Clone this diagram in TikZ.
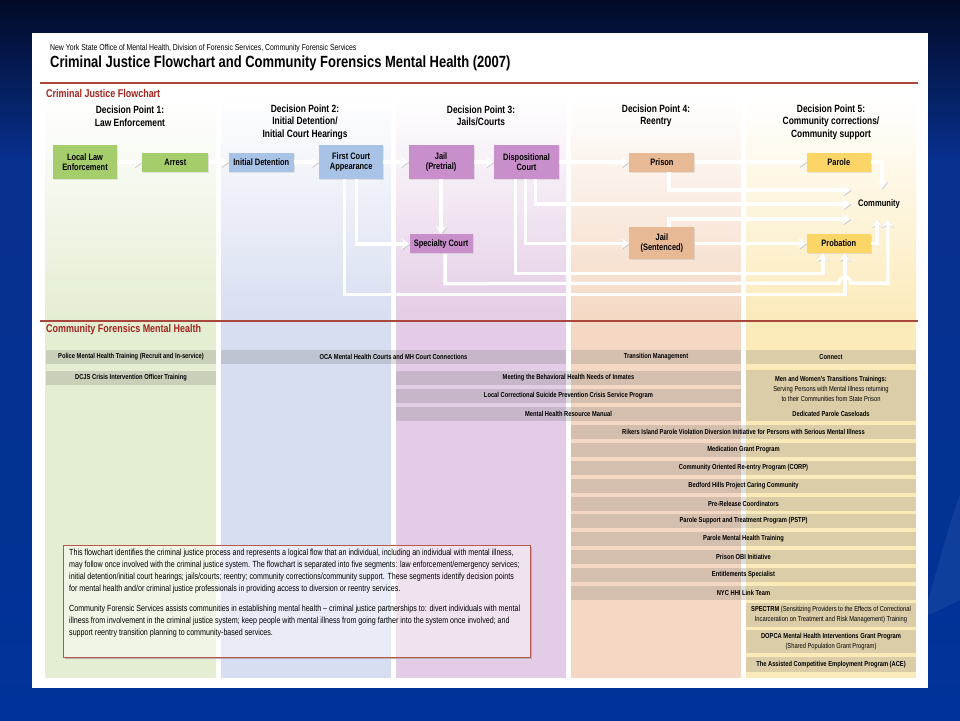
\documentclass[tikz,border=0pt]{standalone}
\usepackage{fontspec}
\setmainfont{Liberation Sans}
\newfontfamily\cnd[FakeStretch=0.8]{Liberation Sans}
\usepackage{xcolor}
\usepackage{tikz}
\usetikzlibrary{arrows.meta, positioning, calc, shadows}

\definecolor{slidetop}{HTML}{020A26}
\definecolor{slidemid}{HTML}{08308E}
\definecolor{slidebot}{HTML}{003399}
\definecolor{rulered}{HTML}{A9473D}
\definecolor{headred}{HTML}{A3251E}
\definecolor{dpgreen}{HTML}{A5CD6C}
\definecolor{dpblue}{HTML}{A9C3E7}
\definecolor{dppurple}{HTML}{C98FCB}
\definecolor{dppeach}{HTML}{E8B995}
\definecolor{dpyellow}{HTML}{FCD567}
\definecolor{colgreen}{HTML}{E4EED2}
\definecolor{colblue}{HTML}{D8DEF1}
\definecolor{colpurple}{HTML}{E3CCE5}
\definecolor{colpeach}{HTML}{F4D8C3}
\definecolor{colyellow}{HTML}{FBEABA}
\definecolor{boxred}{HTML}{B8584D}

\begin{document}
\begin{tikzpicture}[x=1pt, y=-1pt,
    box/.style={rectangle, minimum height=19pt, inner sep=1pt, align=center,
      font=\cnd\bfseries\fontsize{9.3}{9.8}\selectfont,
      drop shadow={shadow xshift=1pt, shadow yshift=-1pt, opacity=0.18}},
    flow/.style={draw=white, line width=3.4pt, -{Stealth[length=8pt, width=11pt]},
      preaction={draw=black!20, transform canvas={xshift=0.8pt, yshift=-0.8pt}}},
    dphead/.style={align=center, inner sep=0pt, font=\cnd\bfseries\fontsize{10.5}{12.5}\selectfont},
    bar/.style={fill=black!60, fill opacity=0.22, text opacity=1, inner sep=0pt,
      minimum height=14pt, align=center, font=\cnd\bfseries\fontsize{7.2}{10}\selectfont},
    section/.style={anchor=west, text=headred, inner sep=0pt,
      font=\cnd\bfseries\fontsize{11.2}{12}\selectfont}
]
% slide and panel
\useasboundingbox (0,0) rectangle (960,720);
\shade[top color=slidetop, bottom color=slidemid] (0,0) rectangle (960,160);
\shade[top color=slidemid, bottom color=slidebot] (0,160) rectangle (960,720);
\fill[white, opacity=0.06] (928,600) .. controls (940,560) and (950,520) .. (960,495)
  -- (960,600) .. controls (950,605) and (940,610) .. (928,615) -- cycle;
\fill[white] (32,33) rectangle (928,688);

% columns
\shade[top color=white, bottom color=colgreen] (45,97) rectangle (216,321);
\shade[top color=white, bottom color=colblue] (221,97) rectangle (391,321);
\shade[top color=white, bottom color=colpurple] (396,97) rectangle (566,321);
\shade[top color=white, bottom color=colpeach] (571,97) rectangle (741,321);
\shade[top color=white, bottom color=colyellow] (746,97) rectangle (916,321);
\fill[colgreen] (45,321) rectangle (216,678);
\fill[colblue] (221,321) rectangle (391,678);
\fill[colpurple] (396,321) rectangle (566,678);
\fill[colpeach] (571,321) rectangle (741,678);
\fill[colyellow] (746,321) rectangle (916,678);

% header
\node[anchor=west, inner sep=0pt, font=\cnd\fontsize{8.6}{9}\selectfont] (org) at (50,48)
  {New York State Office of Mental Health, Division of Forensic Services, Community Forensic Services};
\node[anchor=west, inner sep=0pt, font=\cnd\bfseries\fontsize{16.2}{17}\selectfont] (title) at (50,63)
  {Criminal Justice Flowchart and Community Forensics Mental Health (2007)};
\draw[rulered, line width=1.5pt] (40,83) -- (918,83);
\draw[rulered, line width=1.5pt] (40,321) -- (918,321);
\node[section] (cjf) at (46,93) {Criminal Justice Flowchart};
\node[section] (cfmh) at (46,330) {Community Forensics Mental Health};

% decision points
\node[dphead] (dp1) at (130,116) {Decision Point 1:\\Law Enforcement};
\node[dphead] (dp2) at (305,122) {Decision Point 2:\\Initial Detention/\\Initial Court Hearings};
\node[dphead] (dp3) at (481,116) {Decision Point 3:\\Jails/Courts};
\node[dphead] (dp4) at (656,116) {Decision Point 4:\\Reentry};
\node[dphead] (dp5) at (831,122) {Decision Point 5:\\Community corrections/\\Community support};

% flowchart
\node[box, fill=dpgreen, minimum width=64pt, minimum height=34pt] (lle) at (85,162) {Local Law\\Enforcement};
\node[box, fill=dpgreen, minimum width=66pt, right=25pt of lle] (arrest) {Arrest};
\node[box, fill=dpblue, minimum width=65pt, right=20pt of arrest] (idet) {Initial Detention};
\node[box, fill=dpblue, minimum width=64pt, minimum height=34pt, right=25pt of idet] (fca) {First Court\\Appearance};
\node[box, fill=dppurple, minimum width=65pt, minimum height=34pt, right=25pt of fca] (jpre) {Jail\\(Pretrial)};
\node[box, fill=dppurple, minimum width=65pt, minimum height=34pt, right=20pt of jpre] (dc) {Dispositional\\Court};
\node[box, fill=dppurple, minimum width=63pt, below=55pt of jpre] (spec) {Specialty Court};
\node[box, fill=dppeach, minimum width=65pt, right=70pt of dc] (prison) {Prison};
\node[box, fill=dppeach, minimum width=65pt, minimum height=32pt, below=55.5pt of prison] (jsent) {Jail\\(Sentenced)};
\node[box, fill=dpyellow, minimum width=64pt, right=112pt of prison] (parole) {Parole};
\node[box, fill=dpyellow, minimum width=64pt, below=62pt of parole] (prob) {Probation};
\node[inner sep=0pt, minimum width=56pt, minimum height=30pt,
  font=\cnd\bfseries\fontsize{9.5}{10}\selectfont] (comm) at (879,204) {Community};

\draw[flow] (lle) -- (arrest);
\draw[flow] (arrest) -- (idet);
\draw[flow] (idet) -- (fca);
\draw[flow] (fca) -- (jpre);
\draw[flow] (jpre) -- (dc);
\draw[flow] (dc) -- (prison);
\draw[flow] (prison) -- (parole);
\draw[flow] (jpre) -- (spec);
\draw[flow] ($(fca.south)+(5,0)$) |- (spec);
\draw[flow] ($(dc.south)+(9,0)$) |- (comm.west);
\draw[flow] ($(dc.south)+(-1,0)$) |- (jsent);
\draw[flow] ($(dc.south)+(-11,0)$) -- ++(0,94) -| ($(prob.south)+(-16,0)$);
\draw[flow] ($(fca.south)+(-7,0)$) -- ++(0,115) -| ($(prob.south)+(6,0)$);
\draw[flow] ($(spec.south)+(4,0)$) -- ++(0,30) -- ($(prob.south)+(0,30)$)
  arc[start angle=180, end angle=0, radius=6pt] -| ($(comm.south)+(9,0)$);
\draw[flow] ($(prison.south)+(7,0)$) |- ($(comm.west)+(0,-14)$);
\draw[flow] ($(jsent.north)+(7,0)$) |- ($(comm.west)+(0,15)$);
\draw[flow] (jsent) -- (prob);
\draw[flow] (parole.east) -| ($(comm.north)+(3,0)$);
\draw[flow] (prob.east) -| ($(comm.south)+(-2,0)$);

% community forensics rows
\node[bar, minimum width=170pt] (police) at (131,357) {Police Mental Health Training (Recruit and In-service)};
\node[bar, minimum width=170pt] (dcjs) at (131,378) {DCJS Crisis Intervention Officer Training};
\node[bar, minimum width=345pt] (oca) at (393.5,357) {OCA Mental Health Courts and MH Court Connections};
\node[bar, minimum width=170pt] (transmgmt) at (656,357) {Transition Management};
\node[bar, minimum width=170pt] (connect) at (831,357) {Connect};
\node[bar, minimum width=345pt] (meeting) at (568.5,378) {Meeting the Behavioral Health Needs of Inmates};
\node[bar, minimum width=345pt] (localcorr) at (568.5,396) {Local Correctional Suicide Prevention Crisis Service Program};
\node[bar, minimum width=345pt] (mhrm) at (568.5,414) {Mental Health Resource Manual};
\node[bar, minimum width=170pt, minimum height=37pt] (menwomen) at (831,388.5)
  {Men and Women's Transitions Trainings:\\{\mdseries Serving Persons with Mental Illness returning}\\{\mdseries to their Communities from State Prison}};
\node[bar, minimum width=170pt] (dedicated) at (831,414) {Dedicated Parole Caseloads};
\node[bar, minimum width=345pt] (rikers) at (743.5,432) {Rikers Island Parole Violation Diversion Initiative for Persons with Serious Mental Illness};
\node[bar, minimum width=345pt] (medgrant) at (743.5,450) {Medication Grant Program};
\node[bar, minimum width=345pt] (corp) at (743.5,468) {Community Oriented Re-entry Program (CORP)};
\node[bar, minimum width=345pt] (bedford) at (743.5,486) {Bedford Hills Project Caring Community};
\node[bar, minimum width=345pt] (prerel) at (743.5,504) {Pre-Release Coordinators};
\node[bar, minimum width=345pt] (pstp) at (743.5,521) {Parole Support and Treatment Program (PSTP)};
\node[bar, minimum width=345pt] (parolemh) at (743.5,539) {Parole Mental Health Training};
\node[bar, minimum width=345pt] (obi) at (743.5,557) {Prison OBI Initiative};
\node[bar, minimum width=345pt] (entitle) at (743.5,575) {Entitlements Specialist};
\node[bar, minimum width=345pt] (nychhi) at (743.5,593) {NYC HHI Link Team};
\node[bar, minimum width=170pt, minimum height=24pt] (spectrm) at (831,615)
  {SPECTRM {\mdseries (Sensitizing Providers to the Effects of Correctional}\\{\mdseries Incarceration on Treatment and Risk Management) Training}};
\node[bar, minimum width=170pt, minimum height=23pt] (dopca) at (831,641.5)
  {DOPCA Mental Health Interventions Grant Program\\{\mdseries (Shared Population Grant Program)}};
\node[bar, minimum width=170pt, minimum height=15pt] (ace) at (831,664.5) {The Assisted Competitive Employment Program (ACE)};

% about box
\draw[black!30, line width=2pt] (65,658) -- (531,658) -- (531,547);
\node[draw=boxred, fill=white, fill opacity=0.45, minimum width=467pt, minimum height=112pt,
  anchor=north west] (infobox) at (63,545) {};
\node[anchor=north west, inner sep=0pt, align=left, font=\cnd\fontsize{8.9}{12}\selectfont] (infotext)
  at ($(infobox.north west)+(6,4)$)
  {This flowchart identifies the criminal justice process and represents a logical flow that an individual, including an individual with mental illness,\\
   may follow once involved with the criminal justice system. The flowchart is separated into five segments: law enforcement/emergency services;\\
   initial detention/initial court hearings; jails/courts; reentry; community corrections/community support. These segments identify decision points\\
   for mental health and/or criminal justice professionals in providing access to diversion or reentry services.\\[8pt]
   Community Forensic Services assists communities in establishing mental health – criminal justice partnerships to: divert individuals with mental\\
   illness from involvement in the criminal justice system; keep people with mental illness from going farther into the system once involved; and\\
   support reentry transition planning to community-based services.};
\end{tikzpicture}
\end{document}
